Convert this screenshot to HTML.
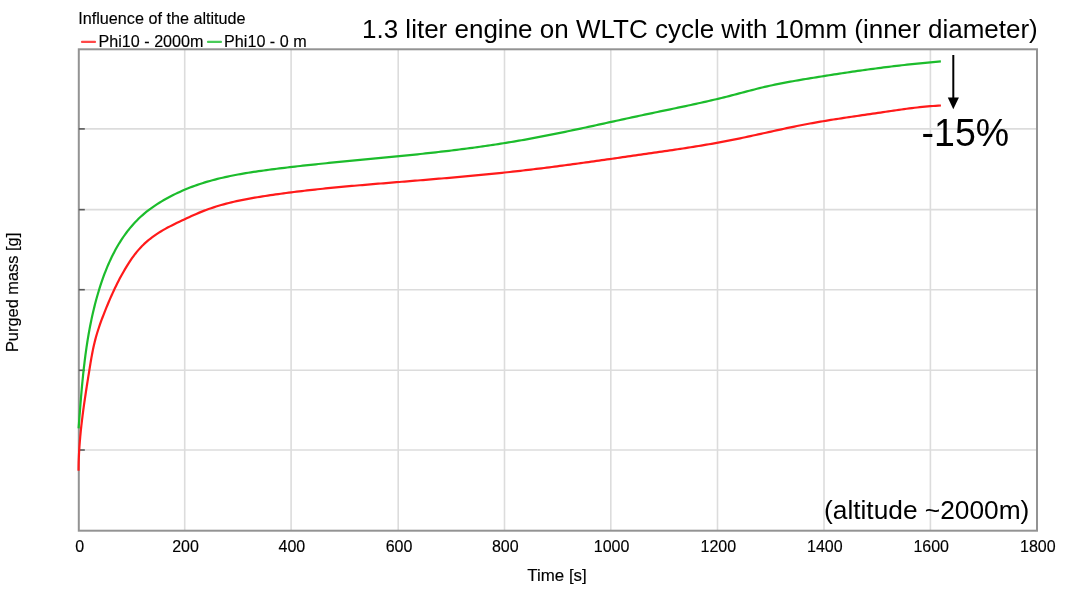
<!DOCTYPE html>
<html><head><meta charset="utf-8"><style>
html,body{margin:0;padding:0;background:#fff;}
body{width:1080px;height:601px;overflow:hidden;position:relative;}
svg{position:absolute;left:0;top:0;will-change:transform;filter:blur(0.35px);}
text{font-family:"Liberation Sans",Arial,sans-serif;fill:#000;}
</style></head><body>
<svg width="1080" height="601" viewBox="0 0 1080 601">
<g stroke="#dcdcdc" stroke-width="1.6">
<line x1="184.70" y1="49.3" x2="184.70" y2="530.7"/>
<line x1="291.10" y1="49.3" x2="291.10" y2="530.7"/>
<line x1="398.20" y1="49.3" x2="398.20" y2="530.7"/>
<line x1="504.50" y1="49.3" x2="504.50" y2="530.7"/>
<line x1="610.80" y1="49.3" x2="610.80" y2="530.7"/>
<line x1="717.50" y1="49.3" x2="717.50" y2="530.7"/>
<line x1="824.00" y1="49.3" x2="824.00" y2="530.7"/>
<line x1="930.40" y1="49.3" x2="930.40" y2="530.7"/>
<line x1="78.8" y1="128.90" x2="1037.0" y2="128.90"/>
<line x1="78.8" y1="209.65" x2="1037.0" y2="209.65"/>
<line x1="78.8" y1="289.70" x2="1037.0" y2="289.70"/>
<line x1="78.8" y1="370.30" x2="1037.0" y2="370.30"/>
<line x1="78.8" y1="450.00" x2="1037.0" y2="450.00"/>
</g>
<rect x="78.8" y="49.3" width="958.2" height="481.40000000000003" fill="none" stroke="#939393" stroke-width="2"/>
<g stroke="#5a5a5a" stroke-width="1.6">
<line x1="78.8" y1="128.90" x2="84.8" y2="128.90"/>
<line x1="78.8" y1="209.65" x2="84.8" y2="209.65"/>
<line x1="78.8" y1="289.70" x2="84.8" y2="289.70"/>
<line x1="78.8" y1="370.30" x2="84.8" y2="370.30"/>
<line x1="78.8" y1="450.00" x2="84.8" y2="450.00"/>
</g>
<path transform="translate(0.3,0.3)" d="M78.29,428.02 L78.49,425.40 L78.69,422.79 L78.89,420.17 L79.09,417.55 L79.29,414.94 L79.50,412.32 L79.70,409.71 L79.90,407.09 L80.11,404.47 L80.32,401.86 L80.54,399.24 L80.76,396.63 L80.98,394.01 L81.21,391.40 L81.44,388.79 L81.68,386.17 L81.92,383.56 L82.17,380.95 L82.43,378.34 L82.69,375.74 L82.96,373.13 L83.25,370.52 L83.53,367.92 L83.83,365.32 L84.14,362.72 L84.46,360.12 L84.78,357.52 L85.12,354.92 L85.47,352.33 L85.83,349.74 L86.21,347.15 L86.59,344.56 L86.99,341.98 L87.40,339.39 L87.83,336.81 L88.27,334.24 L88.72,331.66 L89.19,329.09 L89.68,326.52 L90.18,323.95 L90.70,321.39 L91.23,318.83 L91.79,316.28 L92.36,313.72 L92.94,311.17 L93.55,308.63 L94.18,306.08 L94.82,303.55 L95.49,301.01 L96.17,298.48 L96.88,295.95 L97.61,293.43 L98.36,290.91 L99.13,288.39 L99.92,285.88 L100.74,283.38 L101.58,280.88 L102.45,278.39 L103.34,275.91 L104.26,273.44 L105.21,270.99 L106.18,268.54 L107.19,266.11 L108.23,263.69 L109.30,261.29 L110.40,258.90 L111.53,256.53 L112.69,254.18 L113.90,251.85 L115.13,249.55 L116.41,247.26 L117.72,245.00 L119.06,242.76 L120.45,240.55 L121.88,238.36 L123.35,236.20 L124.86,234.07 L126.41,231.97 L128.00,229.90 L129.64,227.87 L131.31,225.88 L133.03,223.92 L134.80,222.00 L136.60,220.12 L138.45,218.29 L140.34,216.50 L142.28,214.76 L144.25,213.06 L146.27,211.42 L148.32,209.81 L150.41,208.25 L152.54,206.74 L154.69,205.26 L156.88,203.82 L159.09,202.42 L161.33,201.06 L163.59,199.73 L165.87,198.43 L168.18,197.17 L170.50,195.94 L172.84,194.75 L175.20,193.58 L177.58,192.45 L179.97,191.36 L182.38,190.29 L184.80,189.26 L187.23,188.26 L189.68,187.29 L192.14,186.35 L194.61,185.44 L197.09,184.57 L199.58,183.72 L202.07,182.91 L204.57,182.12 L207.08,181.37 L209.60,180.64 L212.12,179.94 L214.65,179.27 L217.18,178.62 L219.72,178.00 L222.27,177.40 L224.82,176.82 L227.37,176.26 L229.93,175.73 L232.50,175.21 L235.06,174.71 L237.63,174.23 L240.21,173.77 L242.79,173.32 L245.37,172.88 L247.95,172.46 L250.54,172.06 L253.13,171.66 L255.72,171.27 L258.31,170.90 L260.90,170.53 L263.50,170.17 L266.09,169.82 L268.69,169.47 L271.29,169.13 L273.89,168.79 L276.48,168.46 L279.08,168.13 L281.68,167.81 L284.28,167.49 L286.88,167.18 L289.49,166.87 L292.09,166.56 L294.69,166.26 L297.29,165.97 L299.90,165.67 L302.50,165.38 L305.10,165.10 L307.71,164.82 L310.31,164.54 L312.92,164.26 L315.53,163.99 L318.13,163.72 L320.74,163.45 L323.35,163.18 L325.95,162.92 L328.56,162.66 L331.17,162.40 L333.78,162.14 L336.39,161.89 L338.99,161.63 L341.60,161.38 L344.21,161.13 L346.82,160.88 L349.43,160.63 L352.04,160.38 L354.65,160.13 L357.26,159.88 L359.87,159.64 L362.48,159.39 L365.09,159.14 L367.70,158.90 L370.31,158.65 L372.92,158.40 L375.53,158.15 L378.14,157.91 L380.75,157.66 L383.36,157.41 L385.97,157.15 L388.58,156.90 L391.19,156.65 L393.80,156.39 L396.41,156.13 L399.02,155.87 L401.63,155.61 L404.24,155.35 L406.85,155.08 L409.46,154.82 L412.07,154.55 L414.68,154.28 L417.29,154.00 L419.89,153.73 L422.50,153.45 L425.11,153.16 L427.71,152.88 L430.32,152.59 L432.93,152.30 L435.53,152.01 L438.14,151.71 L440.74,151.41 L443.35,151.11 L445.95,150.80 L448.55,150.49 L451.16,150.17 L453.76,149.86 L456.36,149.54 L458.96,149.21 L461.56,148.88 L464.16,148.55 L466.76,148.21 L469.36,147.86 L471.96,147.52 L474.55,147.17 L477.15,146.81 L479.75,146.45 L482.34,146.08 L484.93,145.71 L487.53,145.34 L490.12,144.96 L492.71,144.57 L495.30,144.18 L497.89,143.78 L500.48,143.38 L503.07,142.97 L505.65,142.56 L508.24,142.14 L510.82,141.72 L513.41,141.28 L515.99,140.85 L518.57,140.40 L521.15,139.95 L523.73,139.50 L526.31,139.04 L528.89,138.57 L531.47,138.10 L534.04,137.62 L536.62,137.13 L539.19,136.64 L541.76,136.15 L544.33,135.65 L546.91,135.15 L549.48,134.64 L552.05,134.13 L554.62,133.61 L557.18,133.09 L559.75,132.57 L562.32,132.04 L564.89,131.51 L567.45,130.97 L570.02,130.44 L572.58,129.90 L575.15,129.35 L577.71,128.81 L580.27,128.26 L582.84,127.71 L585.40,127.16 L587.96,126.61 L590.53,126.05 L593.09,125.50 L595.65,124.94 L598.21,124.38 L600.77,123.82 L603.34,123.26 L605.90,122.70 L608.46,122.14 L611.02,121.58 L613.58,121.02 L616.14,120.46 L618.70,119.90 L621.27,119.35 L623.83,118.79 L626.39,118.23 L628.95,117.67 L631.51,117.12 L634.08,116.57 L636.64,116.02 L639.20,115.47 L641.77,114.92 L644.33,114.37 L646.89,113.83 L649.46,113.29 L652.02,112.75 L654.59,112.21 L657.15,111.68 L659.72,111.14 L662.28,110.61 L664.85,110.07 L667.41,109.54 L669.98,109.00 L672.54,108.47 L675.11,107.93 L677.67,107.39 L680.24,106.85 L682.80,106.31 L685.36,105.76 L687.92,105.22 L690.48,104.66 L693.04,104.11 L695.60,103.55 L698.16,102.99 L700.72,102.42 L703.27,101.85 L705.83,101.27 L708.38,100.68 L710.94,100.09 L713.49,99.50 L716.04,98.90 L718.59,98.29 L721.13,97.67 L723.68,97.04 L726.22,96.41 L728.76,95.77 L731.30,95.12 L733.84,94.46 L736.38,93.80 L738.91,93.13 L741.45,92.46 L743.98,91.79 L746.52,91.12 L749.06,90.46 L751.59,89.80 L754.13,89.14 L756.67,88.49 L759.21,87.86 L761.76,87.23 L764.31,86.63 L766.86,86.03 L769.41,85.46 L771.97,84.90 L774.54,84.35 L777.10,83.83 L779.67,83.31 L782.24,82.81 L784.81,82.33 L787.39,81.85 L789.97,81.38 L792.55,80.92 L795.13,80.47 L797.71,80.02 L800.29,79.59 L802.88,79.15 L805.46,78.72 L808.05,78.29 L810.64,77.86 L813.22,77.44 L815.81,77.01 L818.40,76.60 L820.99,76.18 L823.57,75.76 L826.16,75.35 L828.75,74.94 L831.34,74.54 L833.93,74.14 L836.53,73.74 L839.12,73.34 L841.71,72.95 L844.30,72.56 L846.90,72.17 L849.49,71.79 L852.08,71.41 L854.68,71.04 L857.27,70.66 L859.87,70.30 L862.46,69.93 L865.06,69.57 L867.66,69.21 L870.26,68.86 L872.85,68.51 L875.45,68.17 L878.05,67.83 L880.65,67.49 L883.25,67.16 L885.85,66.83 L888.45,66.51 L891.05,66.19 L893.66,65.88 L896.26,65.57 L898.86,65.27 L901.46,64.97 L904.07,64.67 L906.67,64.38 L909.28,64.10 L911.88,63.82 L914.49,63.55 L917.10,63.28 L919.70,63.01 L922.31,62.76 L924.92,62.50 L927.53,62.26 L930.14,62.01 L932.75,61.78 L935.36,61.55 L937.97,61.32 L940.58,61.11" fill="none" stroke="#1cbc2c" stroke-width="2.2" stroke-linejoin="round"/>
<path transform="translate(0.3,0.3)" d="M78.22,470.51 L78.25,467.86 L78.29,465.21 L78.35,462.56 L78.43,459.91 L78.54,457.27 L78.66,454.62 L78.79,451.98 L78.95,449.34 L79.12,446.70 L79.31,444.06 L79.51,441.43 L79.73,438.80 L79.96,436.16 L80.21,433.53 L80.47,430.90 L80.74,428.27 L81.03,425.65 L81.33,423.02 L81.64,420.39 L81.96,417.77 L82.29,415.15 L82.63,412.52 L82.97,409.90 L83.33,407.28 L83.70,404.66 L84.07,402.05 L84.45,399.43 L84.84,396.81 L85.23,394.19 L85.62,391.58 L86.03,388.96 L86.43,386.35 L86.84,383.74 L87.25,381.12 L87.67,378.51 L88.09,375.90 L88.51,373.28 L88.93,370.67 L89.35,368.06 L89.77,365.45 L90.20,362.84 L90.64,360.23 L91.09,357.63 L91.56,355.03 L92.05,352.44 L92.56,349.85 L93.11,347.26 L93.68,344.69 L94.28,342.12 L94.92,339.57 L95.61,337.02 L96.33,334.48 L97.09,331.95 L97.89,329.43 L98.71,326.92 L99.57,324.42 L100.45,321.93 L101.36,319.44 L102.29,316.96 L103.24,314.49 L104.20,312.02 L105.18,309.56 L106.17,307.11 L107.18,304.66 L108.20,302.22 L109.23,299.78 L110.29,297.36 L111.36,294.94 L112.45,292.53 L113.56,290.14 L114.69,287.75 L115.84,285.37 L117.01,283.01 L118.21,280.65 L119.43,278.31 L120.68,275.98 L121.96,273.67 L123.26,271.37 L124.59,269.08 L125.95,266.81 L127.34,264.55 L128.76,262.31 L130.22,260.10 L131.72,257.92 L133.27,255.77 L134.86,253.66 L136.50,251.59 L138.20,249.58 L139.95,247.61 L141.77,245.71 L143.64,243.87 L145.58,242.09 L147.57,240.38 L149.61,238.71 L151.70,237.11 L153.84,235.56 L156.01,234.06 L158.22,232.61 L160.46,231.21 L162.72,229.86 L165.02,228.55 L167.33,227.28 L169.66,226.05 L172.01,224.85 L174.38,223.67 L176.76,222.51 L179.15,221.37 L181.54,220.25 L183.95,219.12 L186.35,218.01 L188.76,216.89 L191.18,215.78 L193.60,214.69 L196.02,213.62 L198.46,212.58 L200.91,211.56 L203.36,210.58 L205.83,209.64 L208.31,208.74 L210.81,207.88 L213.31,207.04 L215.82,206.24 L218.34,205.48 L220.87,204.74 L223.41,204.03 L225.96,203.35 L228.51,202.70 L231.07,202.07 L233.64,201.47 L236.21,200.89 L238.79,200.34 L241.38,199.80 L243.97,199.28 L246.57,198.78 L249.17,198.30 L251.77,197.84 L254.38,197.38 L256.98,196.95 L259.60,196.52 L262.21,196.10 L264.83,195.70 L267.44,195.30 L270.06,194.91 L272.68,194.53 L275.30,194.15 L277.92,193.78 L280.54,193.42 L283.16,193.07 L285.78,192.72 L288.40,192.38 L291.03,192.04 L293.65,191.71 L296.27,191.39 L298.90,191.07 L301.53,190.75 L304.15,190.45 L306.78,190.14 L309.41,189.85 L312.03,189.55 L314.66,189.27 L317.29,188.98 L319.92,188.71 L322.55,188.43 L325.18,188.16 L327.81,187.90 L330.45,187.63 L333.08,187.38 L335.71,187.12 L338.34,186.87 L340.98,186.62 L343.61,186.38 L346.24,186.14 L348.88,185.90 L351.51,185.66 L354.14,185.43 L356.78,185.20 L359.41,184.97 L362.05,184.74 L364.69,184.51 L367.32,184.29 L369.96,184.07 L372.59,183.85 L375.23,183.63 L377.87,183.41 L380.50,183.19 L383.14,182.98 L385.77,182.76 L388.41,182.54 L391.05,182.33 L393.68,182.11 L396.32,181.90 L398.96,181.68 L401.59,181.47 L404.23,181.26 L406.87,181.04 L409.50,180.82 L412.14,180.61 L414.78,180.39 L417.41,180.18 L420.05,179.96 L422.69,179.74 L425.32,179.52 L427.96,179.30 L430.59,179.08 L433.23,178.86 L435.87,178.64 L438.50,178.42 L441.14,178.19 L443.77,177.97 L446.41,177.74 L449.04,177.51 L451.68,177.28 L454.31,177.05 L456.95,176.81 L459.58,176.58 L462.22,176.34 L464.85,176.10 L467.48,175.86 L470.12,175.62 L472.75,175.37 L475.38,175.13 L478.02,174.88 L480.65,174.62 L483.28,174.37 L485.91,174.11 L488.54,173.85 L491.18,173.59 L493.81,173.32 L496.44,173.06 L499.07,172.79 L501.70,172.51 L504.33,172.23 L506.96,171.95 L509.59,171.67 L512.21,171.38 L514.84,171.09 L517.47,170.80 L520.10,170.50 L522.72,170.20 L525.35,169.90 L527.98,169.59 L530.60,169.28 L533.23,168.96 L535.85,168.65 L538.48,168.32 L541.10,168.00 L543.73,167.67 L546.35,167.34 L548.98,167.01 L551.60,166.68 L554.22,166.34 L556.84,166.00 L559.47,165.65 L562.09,165.31 L564.71,164.96 L567.33,164.61 L569.95,164.26 L572.58,163.91 L575.20,163.55 L577.82,163.19 L580.44,162.83 L583.06,162.47 L585.68,162.11 L588.30,161.75 L590.92,161.38 L593.54,161.01 L596.16,160.65 L598.78,160.28 L601.40,159.91 L604.02,159.54 L606.64,159.16 L609.25,158.79 L611.87,158.42 L614.49,158.04 L617.11,157.67 L619.73,157.29 L622.35,156.91 L624.97,156.54 L627.59,156.16 L630.20,155.78 L632.82,155.41 L635.44,155.03 L638.06,154.65 L640.68,154.28 L643.30,153.90 L645.92,153.53 L648.53,153.15 L651.15,152.78 L653.77,152.40 L656.39,152.02 L659.01,151.65 L661.63,151.27 L664.24,150.89 L666.86,150.51 L669.48,150.12 L672.09,149.74 L674.71,149.35 L677.33,148.96 L679.94,148.57 L682.56,148.17 L685.17,147.77 L687.78,147.36 L690.39,146.95 L693.01,146.54 L695.62,146.12 L698.23,145.70 L700.83,145.27 L703.44,144.84 L706.05,144.40 L708.65,143.95 L711.26,143.50 L713.86,143.04 L716.46,142.57 L719.06,142.10 L721.66,141.62 L724.26,141.13 L726.85,140.63 L729.45,140.12 L732.04,139.61 L734.63,139.09 L737.22,138.56 L739.81,138.02 L742.40,137.48 L744.98,136.93 L747.57,136.37 L750.15,135.81 L752.73,135.25 L755.32,134.69 L757.90,134.12 L760.48,133.55 L763.07,132.98 L765.65,132.41 L768.23,131.83 L770.81,131.26 L773.40,130.69 L775.98,130.13 L778.56,129.56 L781.15,129.00 L783.73,128.44 L786.32,127.89 L788.90,127.34 L791.49,126.80 L794.08,126.27 L796.67,125.74 L799.27,125.22 L801.86,124.70 L804.46,124.20 L807.05,123.71 L809.65,123.23 L812.25,122.75 L814.86,122.29 L817.46,121.83 L820.07,121.38 L822.67,120.94 L825.28,120.50 L827.89,120.07 L830.50,119.65 L833.11,119.23 L835.73,118.82 L838.34,118.42 L840.96,118.02 L843.57,117.62 L846.19,117.22 L848.80,116.83 L851.42,116.45 L854.04,116.06 L856.66,115.68 L859.27,115.29 L861.89,114.91 L864.51,114.53 L867.13,114.15 L869.75,113.77 L872.37,113.39 L874.98,113.01 L877.60,112.63 L880.22,112.24 L882.83,111.86 L885.45,111.47 L888.07,111.08 L890.68,110.70 L893.30,110.31 L895.91,109.93 L898.53,109.56 L901.15,109.19 L903.77,108.83 L906.39,108.48 L909.01,108.13 L911.63,107.80 L914.26,107.48 L916.88,107.18 L919.51,106.88 L922.14,106.61 L924.77,106.35 L927.40,106.11 L930.04,105.88 L932.68,105.68 L935.32,105.50 L937.97,105.34 L940.62,105.21" fill="none" stroke="#ff1a1a" stroke-width="2.2" stroke-linejoin="round"/>
<g font-size="16" stroke="#000" stroke-width="0.15">
<text x="79.60" y="552" text-anchor="middle">0</text>
<text x="185.50" y="552" text-anchor="middle">200</text>
<text x="291.90" y="552" text-anchor="middle">400</text>
<text x="399.00" y="552" text-anchor="middle">600</text>
<text x="505.30" y="552" text-anchor="middle">800</text>
<text x="611.60" y="552" text-anchor="middle">1000</text>
<text x="718.30" y="552" text-anchor="middle">1200</text>
<text x="824.80" y="552" text-anchor="middle">1400</text>
<text x="931.20" y="552" text-anchor="middle">1600</text>
<text x="1037.80" y="552" text-anchor="middle">1800</text>
<text x="557" y="580.7" text-anchor="middle" font-size="16.9">Time [s]</text>
<text transform="translate(18.2,292.4) rotate(-90)" text-anchor="middle" font-size="16.4">Purged mass [g]</text>
<text x="78.2" y="23.9" font-size="16.2">Influence of the altitude</text>
<text x="98.5" y="46.8" font-size="16.15">Phi10 - 2000m</text>
<text x="224.1" y="46.8" font-size="16.15">Phi10 - 0 m</text>
</g>
<line x1="82" y1="41.9" x2="95" y2="41.9" stroke="#ff4848" stroke-width="2.2" stroke-linecap="round"/>
<line x1="208" y1="41.9" x2="221" y2="41.9" stroke="#48cc58" stroke-width="2.2" stroke-linecap="round"/>
<text x="362" y="37.8" font-size="26">1.3 liter engine on WLTC cycle with 10mm (inner diameter)</text>
<text x="0" y="0" font-size="39.5" transform="translate(921.6,145.6) scale(0.95,1)">-15%</text>
<text x="824" y="519.2" font-size="26.3">(altitude ~2000m)</text>
<line x1="953.3" y1="55" x2="953.3" y2="100" stroke="#000" stroke-width="2"/>
<path d="M947.8,97.6 L958.9,97.6 L953.3,109.2 Z" fill="#000"/>
</svg>
</body></html>
